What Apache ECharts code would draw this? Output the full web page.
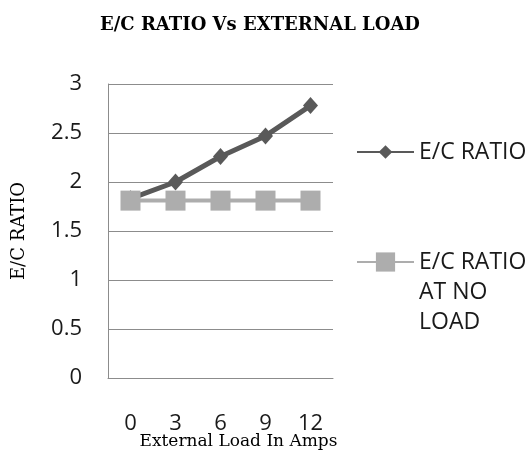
<!DOCTYPE html>
<html>
<head>
<meta charset="utf-8">
<script src="https://cdn.jsdelivr.net/npm/echarts@6/dist/echarts.min.js"></script>
<style>
html,body{margin:0;padding:0;background:#fff;}
#chart{width:528px;height:453px;}
</style>
</head>
<body>
<div id="chart"></div>
<script>
const categories = ['0', '3', '6', '9', '12'];
const ecRatio = [1.83, 2.0, 2.26, 2.47, 2.78];
const ecRatioNoLoad = [1.81, 1.81, 1.81, 1.81, 1.81];
const seriesNames = ['E/C RATIO', 'E/C RATIO AT NO LOAD'];
const titleText = 'E/C RATIO Vs EXTERNAL LOAD';
const xAxisName = 'External Load In Amps';
const yAxisName = 'E/C RATIO';

const chart = echarts.init(document.getElementById('chart'), null, {renderer: 'canvas'});
const sans = '"Open Sans", "Noto Sans", sans-serif';
const serif = '"DejaVu Serif", "Liberation Serif", serif';
const gridColor = '#8c8c8c';

chart.setOption({
  animation: false,
  backgroundColor: '#ffffff',
  title: {
    text: titleText,
    left: 260,
    top: 16,
    padding: 0,
    textAlign: 'center',
    textStyle: {fontFamily: serif, fontWeight: 'bold', fontSize: 18, color: '#000'}
  },
  legend: [
    {
      data: [seriesNames[0]],
      left: 356,
      top: 137,
      padding: 0,
      orient: 'vertical',
      selectedMode: false,
      itemWidth: 57,
      itemHeight: 17,
      textStyle: {fontFamily: sans, fontSize: 23, color: '#1a1a1a', lineHeight: 30}
    },
    {
      data: [seriesNames[1]],
      left: 356,
      top: 187,
      padding: 0,
      orient: 'vertical',
      selectedMode: false,
      itemWidth: 57,
      itemHeight: 24,
      formatter: function () { return '\n\nE/C RATIO\nAT NO\nLOAD'; },
      textStyle: {fontFamily: sans, fontSize: 23, color: '#1a1a1a', lineHeight: 30}
    }
  ],
  grid: {left: 108, right: 195, top: 84, bottom: 75, containLabel: false, outerBoundsMode: 'none'},
  xAxis: {
    type: 'category',
    data: categories,
    boundaryGap: true,
    name: xAxisName,
    nameLocation: 'middle',
    nameGap: 55,
    nameMoveOverlap: false,
    nameTextStyle: {fontFamily: serif, fontSize: 17, color: '#000', padding: [0, 0, 0, 36]},
    axisLine: {show: true, lineStyle: {color: gridColor, width: 1}},
    axisTick: {show: false},
    axisLabel: {fontFamily: sans, fontSize: 22, color: '#1a1a1a', margin: 35},
    splitLine: {show: false}
  },
  yAxis: {
    type: 'value',
    min: 0,
    max: 3,
    interval: 0.5,
    name: yAxisName,
    nameLocation: 'middle',
    nameRotate: 90,
    nameGap: 80,
    nameTextStyle: {fontFamily: serif, fontSize: 18, color: '#000'},
    axisLine: {show: true, lineStyle: {color: gridColor, width: 1}},
    axisTick: {show: false},
    axisLabel: {fontFamily: sans, fontSize: 22, color: '#1a1a1a', margin: 26},
    splitLine: {show: true, lineStyle: {color: gridColor, width: 1}}
  },
  series: [
    {
      name: seriesNames[0],
      type: 'line',
      data: ecRatio,
      symbol: 'diamond',
      symbolSize: [15, 17],
      showAllSymbol: true,
      lineStyle: {color: '#595959', width: 5},
      itemStyle: {color: '#595959'},
      z: 2
    },
    {
      name: seriesNames[1],
      type: 'line',
      data: ecRatioNoLoad,
      symbol: 'rect',
      symbolSize: 20,
      showAllSymbol: true,
      lineStyle: {color: '#adadad', width: 4},
      itemStyle: {color: '#adadad'},
      z: 3
    }
  ]
});
</script>
</body>
</html>
